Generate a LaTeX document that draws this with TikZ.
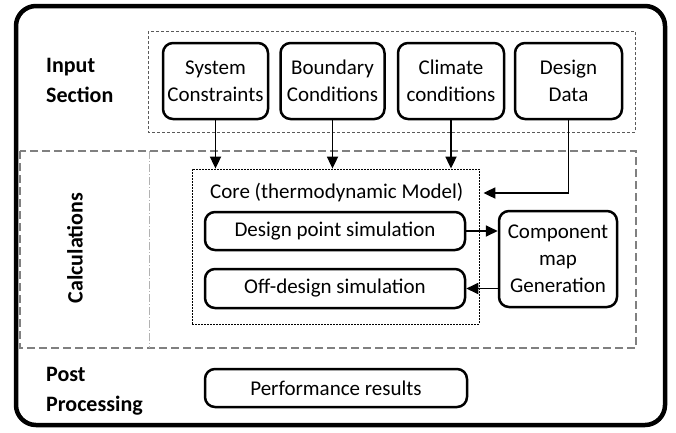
\documentclass[tikz,border=0pt]{standalone}
\usepackage{fontspec}
\setmainfont{Carlito}
\usetikzlibrary{arrows.meta}
\begin{document}
\begin{tikzpicture}[x=1pt,y=-1pt,
  box/.style={draw,line width=2.5pt,rounded corners=10pt,align=center,inner sep=0pt,
    font=\fontsize{21}{27}\selectfont},
  lbl/.style={font=\fontsize{22}{30}\selectfont\bfseries,align=left,inner sep=0pt},
  arr/.style={line width=1.8pt,-{Triangle[length=12pt,width=11pt]}}]
\useasboundingbox (0,0) rectangle (676,432);
% outer frame
\draw[line width=4.5pt,rounded corners=20pt] (16,6) rectangle (665,425);
% input dashed box
\draw[gray!70!black,line width=0.9pt,dash pattern=on 3pt off 2pt] (148,31) rectangle (635,132);
% calculations dashed box
\draw[gray,line width=1.4pt,dash pattern=on 8pt off 4pt] (20,151) rectangle (636,348);
\draw[gray!60,line width=0.7pt,dash pattern=on 8pt off 2pt on 1pt off 2pt] (149,151) -- (149,348);
% core box
\node[draw,line width=0.8pt,dash pattern=on 2pt off 1pt,minimum width=287pt,minimum height=155pt,inner sep=0pt] (core) at (335.5,246.5) {};
% labels
\node[lbl,anchor=west] (inlbl) at (46,80) {Input\\Section};
\node[lbl,rotate=90] (calclbl) at (75,248) {Calculations};
\node[lbl,anchor=west] (pplbl) at (46,391) {Post\\Processing};
% input boxes
\node[box,minimum width=105pt,minimum height=76pt] (sys) at (215.5,81) {System\\Constraints};
\node[box,minimum width=104pt,minimum height=76pt] (bnd) at (332.5,81) {Boundary\\Conditions};
\node[box,minimum width=106pt,minimum height=76pt] (clim) at (451,81) {Climate\\conditions};
\node[box,minimum width=107pt,minimum height=76pt] (dd) at (568.5,81) {Design\\Data};
% core contents
\node[font=\fontsize{21}{27}\selectfont,anchor=west,inner sep=0pt] (coretitle) at (210,193) {Core (thermodynamic Model)};
\node[box,minimum width=260pt,minimum height=38pt] (dp) at (335,231) {Design point simulation};
\node[box,minimum width=260pt,minimum height=39pt] (od) at (335,288.5) {Off-design simulation};
\node[box,minimum width=118pt,minimum height=96pt] (cmg) at (558,259) {Component\\map\\Generation};
\node[box,minimum width=262pt,minimum height=38pt] (perf) at (336,388) {Performance results};
% arrows
\draw[arr] (sys.south) -- (sys.south |- core.north);
\draw[arr] (bnd.south) -- (bnd.south |- core.north);
\draw[arr] (clim.south) -- (clim.south |- core.north);
\draw[arr] (dd.south) |- ([xshift=4pt]core.east |- coretitle.center);
\draw[arr] (dp.east) -- (dp.east -| cmg.west);
\draw[arr] (cmg.west |- od.east) -- (od.east);
\end{tikzpicture}
\end{document}
